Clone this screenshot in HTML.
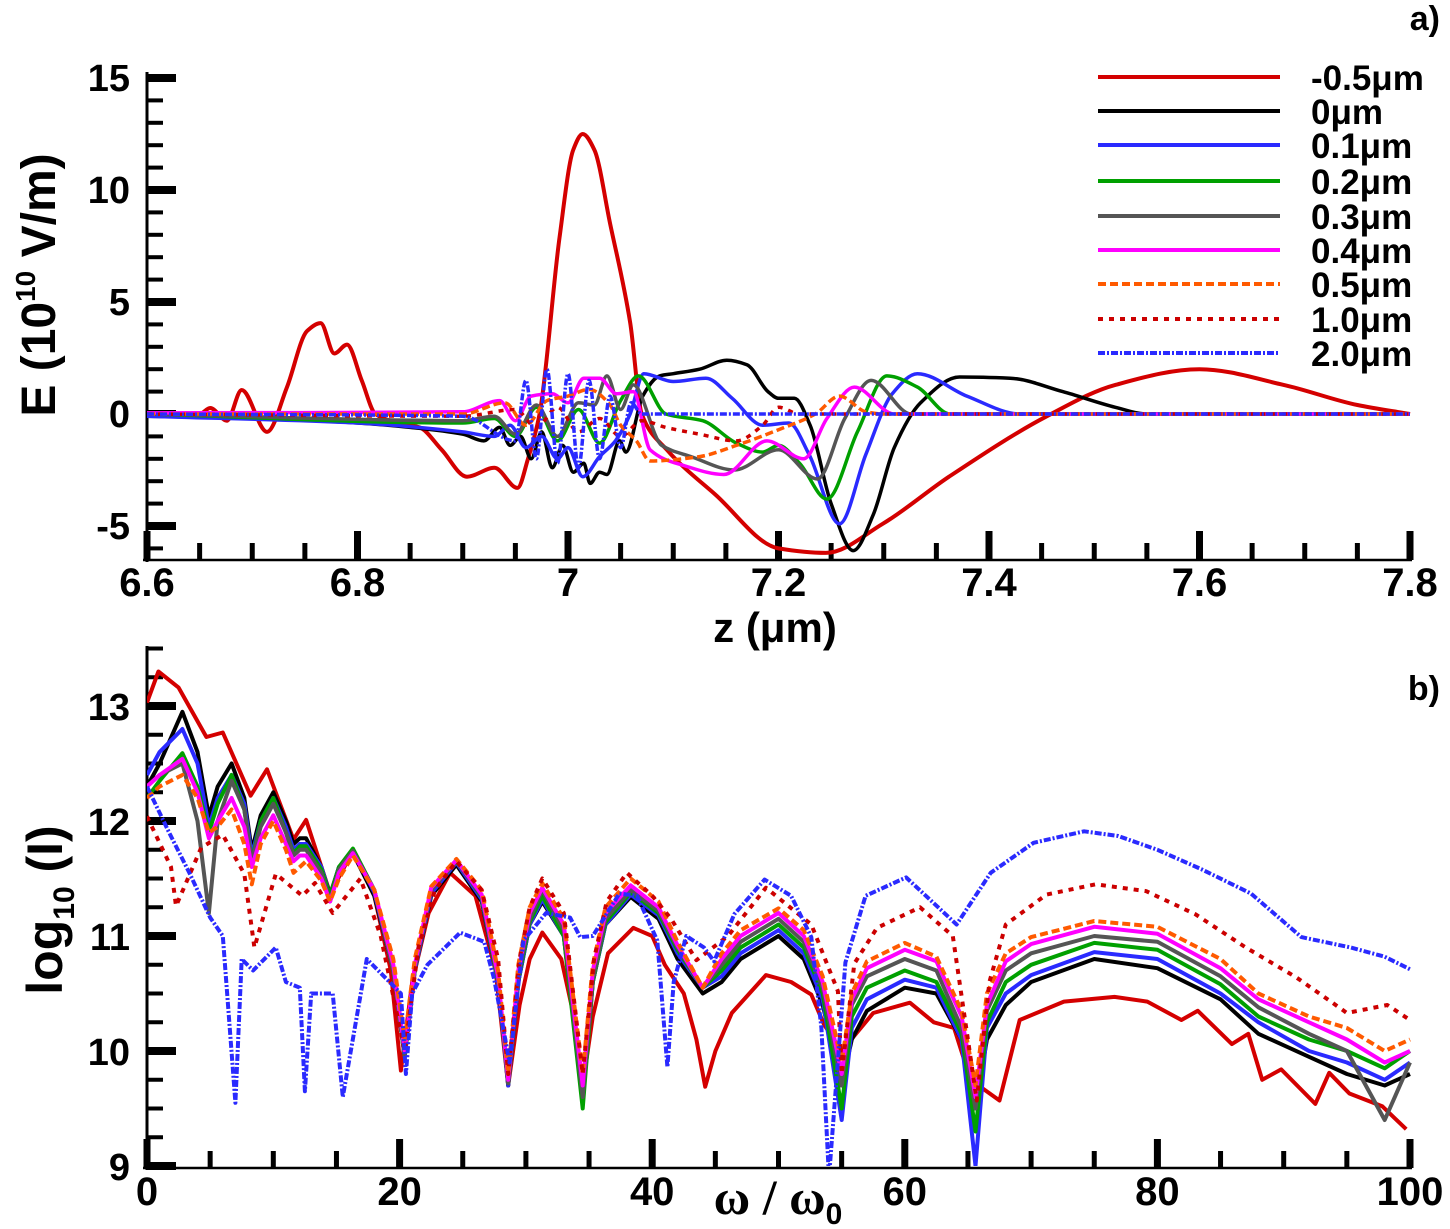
<!DOCTYPE html>
<html><head><meta charset="utf-8">
<style>
html,body{margin:0;padding:0;background:#fff;}
svg{display:block;font-family:"Liberation Sans",Arial,sans-serif;font-weight:bold;}
</style></head>
<body>
<svg id="chart" width="1450" height="1229" viewBox="0 0 1450 1229" xmlns="http://www.w3.org/2000/svg">
<defs>
<clipPath id="clipA"><rect x="147" y="60" width="1270" height="499"/></clipPath>
<clipPath id="clipB"><rect x="147" y="640" width="1270" height="526"/></clipPath>
</defs>
<g id="axesA"></g>
<g id="axesB"></g>
<g id="plotA" clip-path="url(#clipA)"></g>
<g id="plotB" clip-path="url(#clipB)"></g>
<g id="legend"></g>
<text x="1440" y="30" font-size="34" text-anchor="end">a)</text>
<text x="1440" y="700" font-size="34" text-anchor="end">b)</text>
<text transform="translate(55,285) rotate(-90)" font-size="48" text-anchor="middle">E (10<tspan font-size="28" dy="-20">10</tspan><tspan dy="20"> V/m)</tspan></text>
<text x="775" y="642" font-size="42" text-anchor="middle">z (μm)</text>
<text transform="translate(62,910) rotate(-90)" font-size="50" text-anchor="middle">log<tspan font-size="30" dy="12">10</tspan><tspan dy="-12"> (I)</tspan></text>
<text x="778" y="1214" font-size="50" text-anchor="middle" font-family="Liberation Serif, serif">ω / ω<tspan font-size="30" dy="10" font-family="Liberation Sans, sans-serif">0</tspan></text>
</svg>
<script>
// ---------- Panel a data ----------
const seriesNames = ["-0.5μm","0μm","0.1μm","0.2μm","0.3μm","0.4μm","0.5μm","1.0μm","2.0μm"];
const aZ_m05 = [6.6,6.65,6.66,6.676,6.69,6.714,6.733,6.752,6.765,6.778,6.79,6.804,6.817,6.84,6.859,6.88,6.904,6.93,6.952,6.962,6.973,6.992,7.005,7.014,7.025,7.04,7.059,7.07,7.094,7.14,7.2,7.245,7.299,7.362,7.455,7.52,7.6,7.68,7.75,7.8];
const aE_m05 = [0,0,0.27,-0.3,1.07,-0.8,1.2,3.7,4.06,2.7,3.1,1.5,0,-0.4,-0.6,-1.6,-2.8,-2.4,-3.3,-2.0,0,7.9,11.8,12.5,11.8,8.5,4.1,0,-1.6,-3.6,-6.0,-6.2,-4.9,-2.8,-0.1,1.3,2.0,1.3,0.4,0];
const aZ_0 = [6.6,6.7,6.8,6.85,6.9,6.92,6.935,6.945,6.955,6.965,6.975,6.985,6.995,7.005,7.015,7.021,7.03,7.037,7.049,7.055,7.071,7.087,7.1,7.125,7.151,7.17,7.19,7.2,7.215,7.23,7.25,7.271,7.29,7.31,7.335,7.372,7.42,7.47,7.52,7.55,7.8];
const aE_0 = [-0.1,-0.2,-0.4,-0.6,-0.9,-1.2,-0.6,-1.4,-1.0,-2.0,-0.8,-2.4,-1.4,-2.6,-2.2,-3.1,-2.6,-2.7,-1.2,-1.7,0.8,1.7,1.8,2.0,2.4,2.2,1.0,0.7,0.7,-0.5,-4.0,-6.1,-4.5,-1.5,0.5,1.65,1.6,1.0,0.3,0,0];
const aZ_01 = [6.6,6.8,6.9,6.93,6.945,6.96,6.975,6.99,7.0,7.014,7.03,7.045,7.059,7.072,7.1,7.131,7.156,7.185,7.21,7.229,7.258,7.283,7.308,7.332,7.379,7.43,7.8];
const aE_01 = [-0.1,-0.4,-0.8,-1.0,-0.5,-1.5,-1.0,-2.0,-1.5,-2.8,-1.9,-1.2,0,1.8,1.45,1.6,0.7,-0.5,-0.4,-1.8,-4.9,-1.8,0.9,1.8,0.8,0,0];
const aZ_02 = [6.6,6.9,6.93,6.95,6.97,6.99,7.01,7.03,7.05,7.067,7.093,7.128,7.16,7.185,7.2,7.22,7.246,7.275,7.303,7.332,7.363,7.8];
const aE_02 = [0,-0.4,-0.2,-1.0,0.3,-1.2,0.2,-1.3,0.6,1.7,0,-0.3,-1.3,-1.7,-1.4,-2.2,-3.8,-0.8,1.7,1.2,0,0];
const aZ_03 = [6.6,6.9,6.93,6.95,6.97,6.99,7.01,7.025,7.037,7.05,7.062,7.089,7.117,7.158,7.2,7.237,7.263,7.288,7.326,7.8];
const aE_03 = [0,-0.3,-0.1,-0.9,0.4,-1.0,0.5,0.4,1.7,0.2,1.3,-1.4,-1.9,-2.5,-1.6,-2.9,-0.2,1.5,0,0];
const aZ_04 = [6.6,6.9,6.935,6.95,6.965,6.985,7.0,7.015,7.03,7.046,7.062,7.078,7.11,7.148,7.189,7.224,7.246,7.272,7.31,7.8];
const aE_04 = [0.05,0.1,0.6,-0.3,0.8,0.9,0.5,1.6,1.6,0.9,1.0,-1.6,-2.3,-2.7,-1.2,-2.0,-0.2,1.2,0,0];
const aZ_05 = [6.6,6.9,6.94,6.96,6.98,7.0,7.02,7.04,7.05,7.065,7.078,7.125,7.16,7.2,7.235,7.258,7.283,7.3,7.8];
const aE_05 = [0,0,0.5,-0.5,0.6,0.8,1.1,0.4,-0.5,-1.2,-2.1,-1.9,-1.4,-0.7,0,0.8,0.1,0,0];
const aZ_10 = [6.6,6.9,6.95,6.97,6.99,7.01,7.03,7.05,7.07,7.093,7.125,7.16,7.185,7.2,7.22,7.25,7.8];
const aE_10 = [0,-0.1,0.2,-0.6,0.3,-0.8,-0.2,-1.0,-0.3,-0.6,-0.9,-1.2,-0.5,0.3,0,0,0];
const aZ_20 = [6.6,6.9,6.95,6.96,6.97,6.98,6.99,7.0,7.01,7.02,7.03,7.04,7.05,7.06,7.07,7.8];
const aE_20 = [0,-0.1,-1.2,1.5,-2.0,2.0,-2.2,1.8,-2.4,1.5,-2.0,0.8,-1.5,0.5,0,0];
const aTicksMajor = [6.6,6.8,7.0,7.2,7.4,7.6,7.8];
const aTickLabels = ["6.6","6.8","7","7.2","7.4","7.6","7.8"];
const aYTicks = [15,10,5,0,-5];
const aYLabels = ["15","10","5","0","-5"];

// ---------- Panel b data ----------
const bW_grp = [0,1,2.8,4.0,4.9,5.6,6.7,7.7,8.3,9.0,10,11.0,11.6,12.1,12.6,13.8,14.5,15.2,16.3,18,19.5,20.4,21.2,22.5,24.5,26.5,27.8,28.6,29.4,30.3,31.3,33,34.5,35.3,36.3,38.3,40.5,42,44,45.5,47,50,52,53.5,55,55.8,57,60,62.5,64.5,65.6,66.5,68,70,75,80,85,88,92,95,98,100];
const bV_0  = [12.3,12.5,12.95,12.6,12.04,12.3,12.5,12.2,11.74,12.05,12.25,12.0,11.8,11.85,11.85,11.6,11.36,11.6,11.72,11.35,10.7,9.95,10.7,11.35,11.62,11.3,10.6,9.7,10.6,11.1,11.3,11.0,9.6,10.6,11.1,11.34,11.15,10.8,10.5,10.6,10.8,11.0,10.8,10.4,9.7,10.1,10.35,10.55,10.5,10.1,9.5,10.1,10.4,10.6,10.8,10.72,10.45,10.15,9.95,9.8,9.7,9.8];
const bV_01 = [12.4,12.6,12.8,12.5,11.95,12.2,12.4,12.15,11.7,12.0,12.2,11.95,11.75,11.8,11.8,11.6,11.35,11.6,11.74,11.38,10.7,9.95,10.7,11.37,11.64,11.32,10.6,9.7,10.6,11.1,11.32,11.0,9.6,10.6,11.1,11.36,11.18,10.85,10.55,10.65,10.85,11.05,10.85,10.45,9.4,10.2,10.45,10.62,10.55,10.1,9.0,10.2,10.5,10.66,10.86,10.8,10.5,10.25,10.0,9.9,9.75,9.9];
const bV_02 = [12.2,12.35,12.59,12.3,11.9,12.15,12.4,12.1,11.65,12.0,12.2,11.9,11.72,11.78,11.78,11.58,11.35,11.6,11.76,11.4,10.7,9.95,10.72,11.4,11.66,11.34,10.6,9.72,10.62,11.12,11.35,11.0,9.5,10.6,11.12,11.38,11.2,10.88,10.55,10.7,10.9,11.1,10.9,10.5,9.5,10.3,10.55,10.7,10.6,10.15,9.3,10.25,10.6,10.75,10.94,10.88,10.58,10.3,10.1,10.0,9.85,10.0];
const bV_03 = [12.3,12.4,12.5,12.0,11.2,12.0,12.35,12.1,11.65,11.95,12.15,11.9,11.7,11.75,11.75,11.55,11.3,11.58,11.74,11.4,10.7,9.95,10.72,11.4,11.65,11.35,10.62,9.72,10.65,11.15,11.4,11.05,9.6,10.62,11.15,11.4,11.22,10.9,10.55,10.75,10.95,11.15,10.95,10.55,9.7,10.4,10.65,10.8,10.7,10.2,9.5,10.35,10.7,10.85,11.0,10.95,10.65,10.38,10.15,10.0,9.4,9.9];
const bV_04 = [12.3,12.4,12.54,12.25,11.85,12.0,12.2,11.95,11.6,11.85,12.05,11.8,11.65,11.7,11.7,11.5,11.3,11.55,11.72,11.4,10.75,10.0,10.75,11.42,11.66,11.36,10.65,9.75,10.7,11.2,11.42,11.1,9.7,10.7,11.2,11.44,11.25,10.92,10.55,10.8,11.0,11.2,11.0,10.6,9.8,10.45,10.72,10.88,10.78,10.3,9.6,10.4,10.78,10.93,11.08,11.02,10.72,10.45,10.25,10.1,9.9,10.0];
const bV_05 = [12.2,12.3,12.4,12.2,11.9,11.95,12.1,11.8,11.45,11.8,12.0,11.75,11.55,11.6,11.65,11.48,11.3,11.5,11.7,11.4,10.8,10.1,10.8,11.43,11.67,11.4,10.7,9.8,10.75,11.25,11.46,11.15,9.8,10.75,11.25,11.5,11.3,10.95,10.55,10.85,11.05,11.24,11.05,10.65,9.9,10.5,10.78,10.94,10.82,10.35,9.7,10.5,10.85,10.99,11.13,11.08,10.8,10.5,10.3,10.2,10.0,10.1];
const bW_m05 = [0,0.9,2.5,4.7,6,8.2,9.5,11.6,12.6,14.5,16.3,18,19.3,20.1,21,22.3,24,26,27.6,28.6,29.5,30.3,31.3,32.8,33.8,34.5,35.3,36.5,38.5,40,41,42.5,43.5,44.2,45,46.3,49,51,52.6,53.6,55,57.5,60.4,62.3,63.9,65.2,67.5,69.1,72.6,76.6,79.2,81.9,83.2,85.9,87.2,88.3,89.8,92.5,93.6,95.2,97.8,99.7];
const bV_m05 = [13.03,13.3,13.16,12.73,12.77,12.22,12.45,11.84,12.01,11.37,11.74,11.35,10.7,9.83,10.6,11.2,11.55,11.35,10.7,9.7,10.4,10.8,11.03,10.8,10.3,9.7,10.3,10.85,11.07,11.0,10.75,10.5,10.1,9.69,10.0,10.33,10.66,10.6,10.49,10.23,10.0,10.33,10.42,10.25,10.2,9.75,9.57,10.27,10.43,10.47,10.43,10.27,10.35,10.06,10.15,9.75,9.84,9.54,9.81,9.63,9.52,9.32];
const bW_10 = [0,1.9,2.3,4.3,6,7.7,8.5,10.2,12.3,13.3,14.7,16.9,18.5,20.4,21.5,22.8,24.5,26.5,27.8,28.6,29.5,30.3,31.3,33,34.5,35.4,36.4,38,40,41.5,43.5,46,49,52.6,54.7,55,56,57.8,61.2,63.8,65.7,66.7,68,71.2,75.1,79.1,83,87,91,93.6,95,98.2,100];
const bV_10 = [12.04,11.6,11.26,11.77,11.88,11.54,10.9,11.54,11.35,11.46,11.2,11.5,11.0,10.0,10.9,11.4,11.65,11.4,10.8,9.8,10.8,11.25,11.5,11.2,9.8,10.8,11.3,11.55,11.35,11.15,10.79,11.0,11.42,11.1,10.52,9.8,10.76,11.07,11.25,11.0,9.57,10.6,11.1,11.36,11.45,11.39,11.19,10.9,10.64,10.44,10.33,10.4,10.27];
const bW_20 = [0,1.7,3.4,5,6,7,7.5,8.4,10.2,11,12.1,12.5,13,14.7,15.5,17.4,20.1,20.5,21,22.2,24.8,26.7,27.5,28.7,29.8,31.6,33.5,34.3,35.3,37.4,38.8,40.4,41.2,41.7,42.7,44.1,44.9,46.5,48.9,51,52.6,53.4,54,55.3,56.9,60.1,64.1,66.8,70.2,74.2,76.9,80,83.5,87.4,91.4,95.3,98,100];
const bV_20 = [12.3,11.91,11.54,11.16,11.0,9.55,10.8,10.7,10.9,10.6,10.55,9.65,10.5,10.5,9.6,10.8,10.5,9.8,10.5,10.75,11.03,10.95,10.62,9.9,10.96,11.2,11.16,10.99,11.0,11.37,11.35,10.96,9.86,10.6,11.0,10.9,10.78,11.19,11.49,11.35,10.99,10.2,8.9,10.77,11.35,11.51,11.1,11.55,11.81,11.91,11.87,11.75,11.58,11.37,10.99,10.9,10.82,10.71];
const bXTicks = [0,20,40,60,80,100];
const bXLabels = ["0","20","40","60","80","100"];
const bYTicks = [9,10,11,12,13];
const bYLabels = ["9","10","11","12","13"];

// ---------- axis functions ----------
function xA(z){return 147+(z-6.6)*1052.5;}
function yA(e){return 414-e*22.4;}
function xB(w){return 147+w*12.63;}
function yB(v){return 1166-(v-9)*115;}

const NS="http://www.w3.org/2000/svg";
function mk(tag,attrs,parent){const e=document.createElementNS(NS,tag);for(const k in attrs)e.setAttribute(k,attrs[k]);parent.appendChild(e);return e;}

const styles = [
 {c:"#d40000",d:""},
 {c:"#000000",d:""},
 {c:"#2a2aff",d:""},
 {c:"#00a000",d:""},
 {c:"#555555",d:""},
 {c:"#ff00ff",d:""},
 {c:"#ff5a00",d:"8 4"},
 {c:"#cc0000",d:"5 6"},
 {c:"#2a2aff",d:"7 2 2 2"}
];
const slugs=["m05","0","01","02","03","04","05","10","20"];

// monotone cubic (no overshoot) path through screen points
function monoPath(P){
  const n=P.length; const s=[],m=[];
  for(let i=0;i<n-1;i++){s.push((P[i+1][1]-P[i][1])/(P[i+1][0]-P[i][0]));}
  m[0]=s[0]; m[n-1]=s[n-2];
  for(let i=1;i<n-1;i++){
    if(s[i-1]*s[i]<=0) m[i]=0;
    else {const h0=P[i][0]-P[i-1][0],h1=P[i+1][0]-P[i][0];
      m[i]=3*(h0+h1)/((2*h1+h0)/s[i-1]+(h1+2*h0)/s[i]);}
  }
  let d="M"+P[0][0].toFixed(1)+","+P[0][1].toFixed(1);
  for(let i=0;i<n-1;i++){
    const h=(P[i+1][0]-P[i][0])/3;
    d+=" C"+(P[i][0]+h).toFixed(1)+","+(P[i][1]+m[i]*h).toFixed(1)+" "+(P[i+1][0]-h).toFixed(1)+","+(P[i+1][1]-m[i+1]*h).toFixed(1)+" "+P[i+1][0].toFixed(1)+","+P[i+1][1].toFixed(1);
  }
  return d;
}

function drawSeries(parent,xs,ys,fx,fy,i,panel,width,smooth){
  const P=xs.map((x,k)=>[fx(x),fy(ys[k])]);
  let el;
  if(smooth){
    el=mk("path",{d:monoPath(P),fill:"none",stroke:styles[i].c,"stroke-width":width,"stroke-linejoin":"round"},parent);
  } else {
    el=mk("polyline",{points:P.map(p=>p[0].toFixed(1)+","+p[1].toFixed(1)).join(" "),fill:"none",stroke:styles[i].c,"stroke-width":width,"stroke-linejoin":"round"},parent);
  }
  if(styles[i].d) el.setAttribute("stroke-dasharray",styles[i].d);
  
  
}

// panel a axes
const gA=document.getElementById("axesA");
let ln=mk("line",{x1:147,y1:72,x2:147,y2:562,stroke:"#000","stroke-width":3},gA);


ln=mk("line",{x1:143,y1:560,x2:1412,y2:560,stroke:"#000","stroke-width":2.5},gA);


for(let e=-6;e<=15;e++){
  const major=(e%5===0);
  mk("rect",{x:147,y:yA(e)-(major?4:2),width:major?29:16,height:major?8:4,fill:"#000"},gA);
}
aYTicks.forEach((t,k)=>{
  const tx=mk("text",{x:130,y:yA(t)+13,"font-size":38,"text-anchor":"end"},gA);
  tx.textContent=aYLabels[k];
  
  
});
for(let k=0;k<=24;k++){
  const z=6.6+k*0.05; const major=(k%4===0);
  mk("rect",{x:xA(z)-(major?3.5:2.5),y:560-(major?29:17),width:major?7:5,height:major?29:17,fill:"#000"},gA);
}
aTicksMajor.forEach((t,k)=>{
  const tx=mk("text",{x:xA(t),y:596,"font-size":40,"text-anchor":"middle"},gA);
  tx.textContent=aTickLabels[k];
  
  
});

// panel b axes
const gB=document.getElementById("axesB");
ln=mk("line",{x1:147,y1:646,x2:147,y2:1170,stroke:"#000","stroke-width":3},gB);


ln=mk("line",{x1:143,y1:1168,x2:1412,y2:1168,stroke:"#000","stroke-width":2.5},gB);


for(let k=0;k<=18;k++){
  const v=9+k*0.25; const major=(k%4===0);
  mk("rect",{x:147,y:yB(v)-(major?4:2),width:major?29:16,height:major?8:4,fill:"#000"},gB);
}
bYTicks.forEach((t,k)=>{
  const tx=mk("text",{x:130,y:yB(t)+14,"font-size":38,"text-anchor":"end"},gB);
  tx.textContent=bYLabels[k];
  
  
});
for(let k=0;k<=20;k++){
  const w=k*5; const major=(k%4===0);
  mk("rect",{x:xB(w)-(major?3.5:2.5),y:1168-(major?29:17),width:major?7:5,height:major?29:17,fill:"#000"},gB);
}
bXTicks.forEach((t,k)=>{
  const tx=mk("text",{x:xB(t),y:1205,"font-size":40,"text-anchor":"middle"},gB);
  tx.textContent=bXLabels[k];
  
  
});

// panel a series
const pA=document.getElementById("plotA");
const aData=[[aZ_m05,aE_m05],[aZ_0,aE_0],[aZ_01,aE_01],[aZ_02,aE_02],[aZ_03,aE_03],[aZ_04,aE_04],[aZ_05,aE_05],[aZ_10,aE_10],[aZ_20,aE_20]];
aData.forEach((d,i)=>drawSeries(pA,d[0],d[1],xA,yA,i,"a",i===0?4:3.5,true));

// panel b series
const pB=document.getElementById("plotB");
const bData=[[bW_m05,bV_m05],[bW_grp,bV_0],[bW_grp,bV_01],[bW_grp,bV_02],[bW_grp,bV_03],[bW_grp,bV_04],[bW_grp,bV_05],[bW_10,bV_10],[bW_20,bV_20]];
bData.forEach((d,i)=>drawSeries(pB,d[0],d[1],xB,yB,i,"b",4,false));

// legend
const lg=document.getElementById("legend");
const rowY=[77,111,145,181,216,250,284,319,353];
seriesNames.forEach((n,i)=>{
  const l=mk("line",{x1:1098,y1:rowY[i],x2:1280,y2:rowY[i],stroke:styles[i].c,"stroke-width":4},lg);
  if(styles[i].d) l.setAttribute("stroke-dasharray",styles[i].d);
  
  
  const t=mk("text",{x:1311,y:rowY[i]+13,"font-size":35},lg);
  t.textContent=n;
  
  
});
</script>
</body></html>
